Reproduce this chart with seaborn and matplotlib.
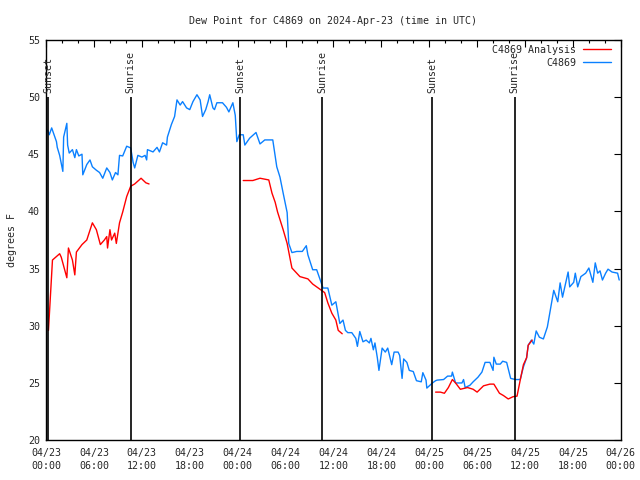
import pandas as pd
import matplotlib
matplotlib.use('Agg')
import matplotlib.pyplot as plt
import matplotlib.dates as mdates
from matplotlib.lines import Line2D
import seaborn as sns

start = pd.Timestamp('2024-04-23 00:00')

# station obs, hours after 04/23 00:00 UTC and dew point (F)
obs_hours = [0.2, 0.4, 0.7, 0.9, 1.3, 1.4, 1.7, 1.9, 2.1, 2.2, 2.6, 2.7, 2.9, 3.3, 3.6, 3.8,
             4.1, 4.5, 4.6, 5.1, 5.5, 5.8, 6.3, 6.7, 7.1, 7.6, 8.0, 8.3, 8.7, 9.0, 9.2, 9.6,
             10.1, 10.6, 10.9, 11.1, 11.5, 12.0, 12.4, 12.6, 12.7, 13.4, 13.9, 14.2, 14.6, 15.1,
             15.2, 15.7, 16.1, 16.4, 16.8, 17.1, 17.6, 18.0, 18.4, 18.9, 19.3, 19.6, 20.0, 20.3,
             20.5, 20.9, 21.1, 21.4, 22.1, 22.6, 22.9, 23.4, 23.7, 23.9, 24.2, 24.7, 24.9, 25.5,
             26.3, 26.8, 27.4, 28.4, 28.9, 29.3, 29.7, 30.2, 30.4, 30.8, 31.4, 32.1, 32.6, 32.8,
             33.4, 33.9, 34.2, 34.7, 35.3, 35.8, 36.3, 36.8, 37.2, 37.5, 37.8, 38.3, 38.8, 39.0,
             39.3, 39.7, 40.1, 40.5, 40.7, 41.0, 41.2, 41.5, 41.7, 42.1, 42.5, 42.8, 43.3, 43.6,
             44.1, 44.3, 44.6, 44.8, 45.2, 45.5, 46.0, 46.4, 47.0, 47.2, 47.6, 47.7, 48.4, 48.8,
             49.0, 49.8, 50.3, 50.8, 50.9, 51.3, 52.1, 52.3, 52.5, 53.1, 53.5, 54.1, 54.6, 55.0,
             55.6, 56.0, 56.1, 56.4, 56.9, 57.2, 57.7, 58.2, 58.8, 59.4, 59.8, 60.2, 60.4, 60.8,
             61.1, 61.4, 61.8, 62.3, 62.8, 63.2, 63.6, 64.1, 64.4, 64.7, 65.1, 65.4, 65.6, 66.1,
             66.3, 66.6, 67.0, 67.6, 68.0, 68.5, 68.8, 69.1, 69.4, 69.7, 70.1, 70.4, 70.9, 71.6,
             71.8]
obs_dewpt = [47.1, 46.7, 47.3, 46.9, 46.1, 45.6, 44.9, 44.2, 43.5, 46.5, 47.7, 45.8, 45.1, 45.4, 44.7, 45.4,
             44.85, 45.0, 43.2, 44.1, 44.5, 43.9, 43.6, 43.4, 42.9, 43.8, 43.4, 42.75, 43.4, 43.2, 44.9, 44.85,
             45.7, 45.55, 44.3, 43.8, 44.9, 44.75, 44.9, 44.5, 45.4, 45.2, 45.6, 45.2, 46.0, 45.8,
             46.5, 47.6, 48.3, 49.75, 49.3, 49.6, 49.05, 48.9, 49.6, 50.2, 49.75, 48.3, 48.9, 49.6,
             50.2, 49.05, 48.9, 49.5, 49.5, 49.1, 48.7, 49.5, 48.4, 46.1, 46.7, 46.7, 45.8, 46.4,
             46.9, 45.9, 46.25, 46.25, 43.9, 43.0, 41.6, 39.9, 37.2, 36.4, 36.5, 36.5, 37.0, 36.2,
             34.9, 34.9, 34.3, 33.3, 33.3, 31.8, 32.1, 30.2, 30.5, 29.6, 29.4, 29.4, 28.9, 28.2,
             29.5, 28.6, 28.75, 28.5, 28.9, 27.9, 28.5, 27.2, 26.1, 28.05, 27.7, 28.05, 26.6, 27.7,
             27.7, 27.4, 25.4, 27.1, 26.8, 26.1, 26.0, 25.2, 25.1, 25.9, 25.25, 24.55, 25.0, 25.2,
             25.25, 25.3, 25.6, 25.6, 25.95, 25.0, 25.0, 25.3, 24.6, 24.8, 25.1, 25.5, 25.95, 26.8,
             26.8, 26.1, 27.25, 26.65, 26.65, 26.9, 26.8, 25.4, 25.3, 25.3, 26.4, 27.2, 28.3, 28.75,
             28.4, 29.55, 29.0, 28.85, 29.9, 31.5, 33.1, 32.1, 33.75, 32.5, 33.75, 34.7, 33.4, 33.8,
             34.6, 33.4, 34.3, 34.6, 35.05, 33.8, 35.5, 34.6, 34.8, 34.0, 34.6, 34.95, 34.7, 34.6,
             34.0]

# analysis, three pieces with gaps in between
ana_hours = [0.3, 0.8, 1.7, 1.9, 2.6, 2.8, 3.3, 3.6, 3.8, 4.5, 5.1, 5.8, 6.3, 6.8, 7.3, 7.6,
             7.7, 8.0, 8.2, 8.6, 8.8, 9.2, 9.6, 10.1, 10.6, 11.1, 11.9, 12.5, 12.9,
             24.7, 25.9, 26.8, 27.9, 28.3, 28.7, 29.0, 29.7, 30.2, 30.6, 30.8, 31.4, 31.8,
             32.8, 33.4, 34.3, 34.9, 35.3, 35.8, 36.3, 36.6, 37.1,
             48.8, 49.4, 49.9, 50.4, 50.9, 51.3, 51.9, 52.8, 53.5, 54.0, 54.8, 55.6, 56.1,
             56.8, 57.3, 57.9, 58.5, 59.0, 59.4, 59.8, 60.2, 60.4, 60.9]
ana_dewpt = [29.6, 35.75, 36.3, 36.0, 34.2, 36.8, 35.75, 34.45, 36.45, 37.1, 37.5, 39.0, 38.4, 37.1, 37.5, 37.8,
             36.8, 38.4, 37.5, 38.1, 37.2, 39.0, 39.95, 41.3, 42.2, 42.4, 42.9, 42.5, 42.4,
             42.7, 42.7, 42.9, 42.75, 41.6, 40.8, 39.95, 38.4, 37.2, 35.75, 35.05, 34.6, 34.3,
             34.1, 33.65, 33.2, 32.9, 32.0, 31.1, 30.5, 29.6, 29.3,
             24.2, 24.2, 24.1, 24.6, 25.3, 25.0, 24.45, 24.6, 24.45, 24.2, 24.75, 24.9, 24.9,
             24.1, 23.9, 23.6, 23.8, 23.85, 25.25, 26.6, 27.2, 28.3, 28.75]
ana_piece = [1] * 29 + [2] * 22 + [3] * 23

sun_hours = [0.3, 10.6, 24.3, 34.6, 48.4, 58.7]
sun_labels = ['Sunset', 'Sunrise', 'Sunset', 'Sunrise', 'Sunset', 'Sunrise']

obs = pd.DataFrame({'time': start + pd.to_timedelta(obs_hours, unit='h'), 'dewpt': obs_dewpt})
ana = pd.DataFrame({'time': start + pd.to_timedelta(ana_hours, unit='h'), 'dewpt': ana_dewpt,
                    'piece': ana_piece})
sun_times = start + pd.to_timedelta(sun_hours, unit='h')

sns.set_style('white')
plt.rcParams['font.family'] = 'DejaVu Sans Mono'
fs = 7.2
plt.rcParams['font.size'] = fs

blue = '#0a80ff'
red = '#ff0000'

fig, ax = plt.subplots(figsize=(6.4, 4.8), dpi=100)
fig.subplots_adjust(left=0.072, right=0.970, bottom=0.083, top=0.917)

sns.lineplot(data=obs, x='time', y='dewpt', color=blue, lw=1.0, ax=ax, estimator=None, sort=False)
sns.lineplot(data=ana, x='time', y='dewpt', units='piece', color=red, lw=1.0, ax=ax,
             estimator=None, sort=False)

# sunrise / sunset markers
ax.vlines(sun_times, 20, 50.0, color='black', lw=1.2)
for t, lab in zip(sun_times, sun_labels):
    ax.text(t, 50.35, lab, rotation=90, ha='center', va='bottom', fontsize=fs)

ax.set_xlim(start, start + pd.Timedelta(hours=72))
ax.set_ylim(20, 55)
ax.set_yticks(range(20, 56, 5))
ax.xaxis.set_major_locator(mdates.HourLocator(byhour=[0, 6, 12, 18]))
ax.xaxis.set_minor_locator(mdates.HourLocator(byhour=range(0, 24, 2)))
ax.xaxis.set_major_formatter(mdates.DateFormatter('%m/%d\n%H:%M'))
ax.tick_params(which='both', direction='in', top=True, right=True, color='black', width=0.8)
ax.tick_params(which='major', length=5, labelsize=fs)
ax.tick_params(axis='x', which='major', pad=5.5)
ax.tick_params(axis='y', which='major', pad=4.5)
ax.tick_params(which='minor', length=2.5)
for s in ax.spines.values():
    s.set_color('black')
    s.set_linewidth(1.0)

ax.set_xlabel('')
ax.set_ylabel('degrees F', fontsize=fs, labelpad=8)
ax.set_title('Dew Point for C4869 on 2024-Apr-23 (time in UTC)', fontsize=fs, pad=11.5)

handles = [Line2D([], [], color=red, lw=1.0), Line2D([], [], color=blue, lw=1.0)]
ax.legend(handles, ['C4869 Analysis', 'C4869'], loc='upper right', bbox_to_anchor=(0.99, 0.998),
          frameon=False, markerfirst=False, handlelength=2.8, handletextpad=0.7,
          labelspacing=0.3, borderaxespad=0, fontsize=fs)

fig.canvas.draw()
for lab in ax.get_xticklabels():
    lab.set_linespacing(1.4)

fig.savefig('out.png', dpi=100)
